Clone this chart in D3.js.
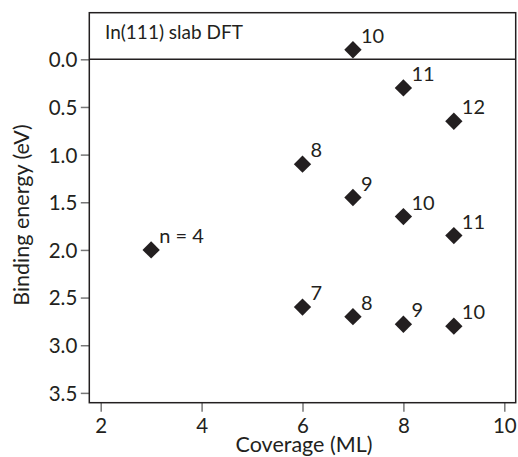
<!DOCTYPE html>
<html>
<head>
<meta charset="utf-8">
<script src="https://cdn.jsdelivr.net/npm/d3@7"></script>
<style>
  html, body { margin: 0; padding: 0; background: #fff; }
  svg { display: block; }
  text { font-family: Lato, "Open Sans", sans-serif; fill: #231f20; }
</style>
</head>
<body>
<svg id="chart" width="518" height="457"></svg>
<script>
// Coverage (ML), binding energy (eV) and cluster size n for each slab calculation
const coverage = [3, 6, 7, 8, 9, 6, 7, 8, 9, 7, 8, 9];
const bindingEnergy = [2.0, 1.1, 1.45, 1.65, 1.85, 2.6, 2.7, 2.78, 2.8, -0.1, 0.3, 0.65];
const clusterSize = [4, 8, 9, 10, 11, 7, 8, 9, 10, 10, 11, 12];
const xTicks = [2, 4, 6, 8, 10];
const yTicks = [0.0, 0.5, 1.0, 1.5, 2.0, 2.5, 3.0, 3.5];

const width = 518, height = 457;
const margin = { top: 12.7, right: 2.3, bottom: 54.3, left: 89.3 };

const svg = d3.select("#chart");

const x = d3.scaleLinear().domain([1.774, 10.226]).range([margin.left, width - margin.right]);
const y = d3.scaleLinear().domain([-0.489, 3.603]).range([margin.top, height - margin.bottom]);

const points = coverage.map((c, i) => ({ c, e: bindingEnergy[i], n: clusterSize[i], first: i === 0 }));

// Axes with outward ticks
const xAxis = svg.append("g")
  .attr("transform", `translate(0,${height - margin.bottom})`)
  .call(d3.axisBottom(x).tickValues(xTicks).tickFormat(d3.format("d")).tickSize(9).tickPadding(7));
const yAxis = svg.append("g")
  .attr("transform", `translate(${margin.left},0)`)
  .call(d3.axisLeft(y).tickValues(yTicks).tickFormat(d3.format(".1f")).tickSize(8.5).tickPadding(3.5));

[xAxis, yAxis].forEach(g => {
  g.select(".domain").remove();
  g.selectAll(".tick line").attr("stroke", "#777").attr("stroke-width", 1.5);
  g.selectAll(".tick text").style("font-size", "20.5px").attr("fill", "#231f20");
});
xAxis.selectAll(".tick text").attr("dy", "0.71em");
yAxis.selectAll(".tick text").attr("dy", "0.36em");

// Frame around the plot area
svg.append("rect")
  .attr("x", margin.left).attr("y", margin.top)
  .attr("width", width - margin.left - margin.right)
  .attr("height", height - margin.top - margin.bottom)
  .attr("fill", "none").attr("stroke", "#231f20").attr("stroke-width", 1.5);

// Zero reference line
svg.append("line")
  .attr("x1", margin.left).attr("x2", width - margin.right)
  .attr("y1", y(0)).attr("y2", y(0))
  .attr("stroke", "#231f20").attr("stroke-width", 1.5);

// Panel label
svg.append("text")
  .attr("x", 105).attr("y", 39)
  .style("font-size", "19px")
  .text("In(111) slab DFT");

// Axis titles
svg.append("text")
  .attr("x", 304)
  .attr("y", 452)
  .attr("text-anchor", "middle")
  .style("font-size", "21.5px")
  .text("Coverage (ML)");

svg.append("text")
  .attr("transform", "translate(28.5,215) rotate(-90)")
  .attr("text-anchor", "middle")
  .style("font-size", "21.5px")
  .text("Binding energy (eV)");

// Diamond markers
const diamond = d3.symbol().type(d3.symbolSquare).size(150);
svg.append("g")
  .selectAll("path")
  .data(points)
  .join("path")
  .attr("d", diamond)
  .attr("transform", d => `translate(${x(d.c)},${y(d.e)}) rotate(45)`)
  .attr("fill", "#231f20");

// Cluster-size labels
svg.append("g")
  .selectAll("text")
  .data(points)
  .join("text")
  .attr("x", d => x(d.c) + 8)
  .attr("y", d => y(d.e) - 7)
  .style("font-size", "20px")
  .text(d => d.first ? `n = ${d.n}` : d.n);
</script>
</body>
</html>
